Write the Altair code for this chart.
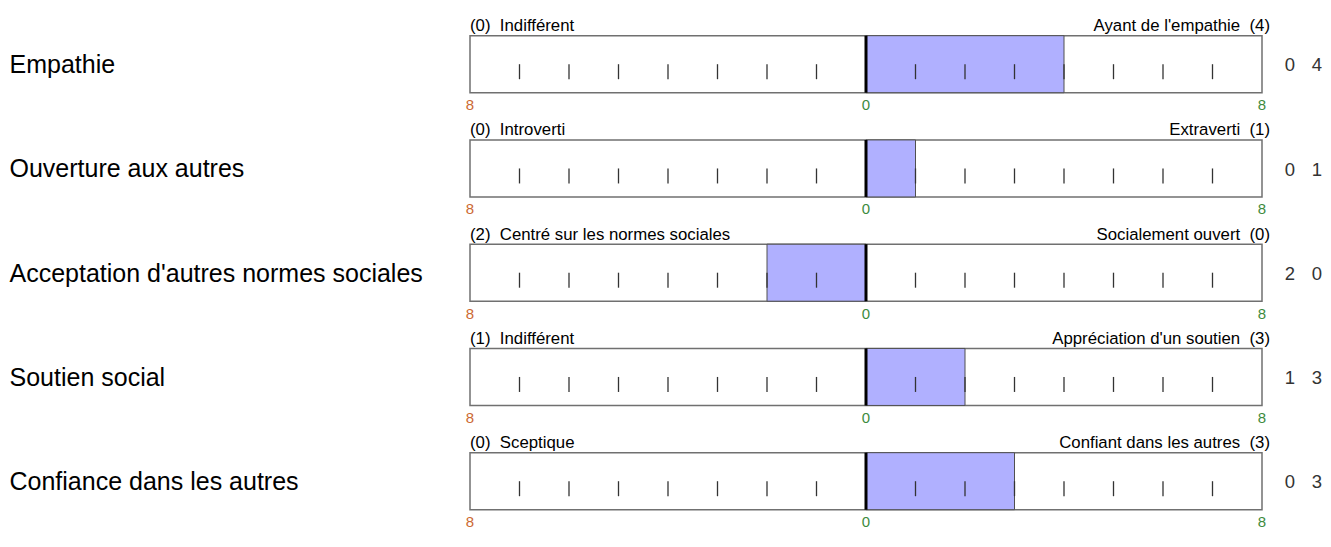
import altair as alt
import pandas as pd

# ---- data ----
names = ["Empathie", "Ouverture aux autres", "Acceptation d'autres normes sociales",
         "Soutien social", "Confiance dans les autres"]
left_labels = ["Indifférent", "Introverti", "Centré sur les normes sociales",
               "Indifférent", "Sceptique"]
right_labels = ["Ayant de l'empathie", "Extraverti", "Socialement ouvert",
                "Appréciation d'un soutien", "Confiant dans les autres"]
left_scores = [0, 0, 2, 1, 0]
right_scores = [4, 1, 0, 3, 3]
scale_min, scale_max = -8, 8
tick_values = [v for v in range(-7, 8) if v != 0]
axis_values = [-8, 0, 8]

FONT = "Liberation Sans"
BOX_H = 57

rows = []
for i, n in enumerate(names):
    net = right_scores[i] - left_scores[i]
    rows.append({
        "row": i, "name": n,
        "ltext": f"({left_scores[i]})\u00a0 {left_labels[i]}",
        "rtext": f"{right_labels[i]}\u00a0 ({right_scores[i]})",
        "lo": min(0, net), "hi": max(0, net),
        "xmin": scale_min, "xmax": scale_max, "zero": 0,
        "ls": str(left_scores[i]), "rs": str(right_scores[i]),
    })
df = pd.DataFrame(rows)
ticks = pd.DataFrame([{"row": i, "t": t} for i in range(len(names)) for t in tick_values])
axis = pd.DataFrame([{"row": i, "v": v, "lab": str(abs(v))} for i in range(len(names)) for v in axis_values])

xs = alt.Scale(domain=[scale_min, scale_max], range=[462, 1254])
ys = alt.Scale(domain=[0, 4], range=[27.7, 444.7])
X = lambda f: alt.X(f, type="quantitative", scale=xs, axis=None)
Y = alt.Y("row:Q", scale=ys, axis=None)

base = alt.Chart(df)

box = base.mark_rect(fill="white", stroke="#707070", strokeWidth=1.5, y2Offset=BOX_H).encode(
    x=X("xmin"), x2="xmax", y=Y, y2="row")
bar = base.mark_rect(fill="#b0b0ff", stroke="#505050", strokeWidth=1, y2Offset=BOX_H).encode(
    x=X("lo"), x2="hi", y=Y, y2="row")
tk = alt.Chart(ticks).mark_rule(color="#333333", strokeWidth=1.3, yOffset=28.5, y2Offset=43.5).encode(
    x=X("t"), y=Y, y2="row")
center = base.mark_rule(color="black", strokeWidth=3, y2Offset=BOX_H).encode(
    x=X("zero"), y=Y, y2="row")
ltxt = base.mark_text(align="left", baseline="alphabetic", dy=-4.7, font=FONT, fontSize=16.8, color="black").encode(
    x=X("xmin"), y=Y, text="ltext")
rtxt = base.mark_text(align="right", baseline="alphabetic", dy=-4.7, dx=8, font=FONT, fontSize=16.8, color="black").encode(
    x=X("xmax"), y=Y, text="rtext")
axt = alt.Chart(axis).mark_text(align="center", baseline="alphabetic", dy=BOX_H + 17.3, font=FONT, fontSize=15).encode(
    x=X("v"), y=Y, text="lab",
    color=alt.condition(alt.datum.v < 0, alt.value("#cc6a33"), alt.value("#3d8b3d")))
ntxt = base.mark_text(align="left", baseline="alphabetic", dy=BOX_H / 2 + 9, font=FONT, fontSize=25, color="black").encode(
    x=alt.value(1.5), y=Y, text="name")
s1 = base.mark_text(align="center", baseline="alphabetic", dy=BOX_H / 2 + 7.2, font=FONT, fontSize=18.5, color="#333333").encode(
    x=alt.value(1282), y=Y, text="ls")
s2 = base.mark_text(align="center", baseline="alphabetic", dy=BOX_H / 2 + 7.2, font=FONT, fontSize=18.5, color="#333333").encode(
    x=alt.value(1309), y=Y, text="rs")

chart = alt.layer(box, bar, tk, center, ltxt, rtxt, axt, ntxt, s1, s2).properties(
    width=1315, height=531, autosize=alt.AutoSizeParams(type="none"), padding=0
).configure_view(stroke=None)

chart.save("out.html", embed_options={"renderer": "svg", "actions": False})
